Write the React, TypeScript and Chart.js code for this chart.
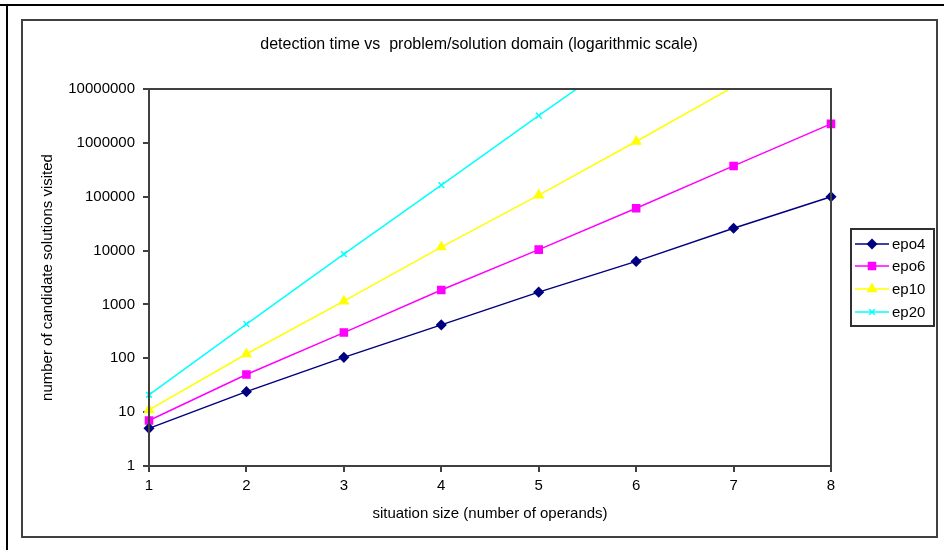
import React, { useEffect, useRef } from "react";
import { Chart, registerables } from "chart.js";
import { drawPoint } from "chart.js/helpers";

Chart.register(...registerables);

const categories = ["1", "2", "3", "4", "5", "6", "7", "8"];
const epo4 = [5, 24, 104, 417, 1690, 6300, 26000, 100000];
const epo6 = [7, 50, 300, 1850, 10400, 61000, 373000, 2250000];
const ep10 = [11, 120, 1150, 11600, 107000, 1060000, 11000000, null];
const ep20 = [21, 430, 8600, 164000, 3200000, 60000000, null, null];
const yTicks = [1, 10, 100, 1000, 10000, 100000, 1000000, 10000000];
const titleText = "detection time vs  problem/solution domain (logarithmic scale)";
const xTitle = "situation size (number of operands)";
const yTitle = "number of candidate solutions visited";

const FONT = "'Liberation Sans', Arial, sans-serif";
const AXIS = "#404040";

const series = [
  { label: "epo4", data: epo4, color: "#000080", style: "rectRot", radius: 4.5 },
  { label: "epo6", data: epo6, color: "#FF00FF", style: "rect", radius: 5 },
  { label: "ep10", data: ep10, color: "#FFFF00", style: "triangle", radius: 5 },
  { label: "ep20", data: ep20, color: "#00FFFF", style: "crossRot", radius: 4 },
];

const decorPlugin = {
  id: "decor",
  afterDraw(chart: any) {
    const ctx = chart.ctx;
    const a = chart.chartArea;
    ctx.save();
    // plot area frame
    ctx.strokeStyle = AXIS;
    ctx.lineWidth = 2;
    ctx.strokeRect(a.left, a.top, a.right - a.left, a.bottom - a.top);
    // title
    ctx.fillStyle = "#000";
    ctx.font = `16px ${FONT}`;
    ctx.textAlign = "center";
    ctx.textBaseline = "alphabetic";
    ctx.fillText(titleText, 479, 49);
    // legend
    const bx = 851, by = 229, bw = 83, bh = 97;
    ctx.strokeStyle = "#303030";
    ctx.lineWidth = 2;
    ctx.strokeRect(bx, by, bw, bh);
    const rows = [244, 266, 289, 312];
    ctx.font = `15px ${FONT}`;
    ctx.textAlign = "left";
    ctx.textBaseline = "middle";
    series.forEach((s, i) => {
      const y = rows[i];
      ctx.strokeStyle = s.color;
      ctx.lineWidth = 1.5;
      ctx.beginPath();
      ctx.moveTo(855, y);
      ctx.lineTo(889, y);
      ctx.stroke();
      ctx.fillStyle = s.color;
      drawPoint(ctx, { pointStyle: s.style, radius: s.radius, rotation: 0, borderWidth: 1.5 }, 872, y);
      ctx.fillStyle = "#000";
      ctx.fillText(s.label, 892, y + 1);
    });
    ctx.restore();
  },
};

export default function App() {
  const ref = useRef<HTMLCanvasElement | null>(null);
  useEffect(() => {
    if (!ref.current) return;
    const chart = new Chart(ref.current, {
      type: "line",
      data: {
        labels: categories,
        datasets: series.map((s) => ({
          label: s.label,
          data: s.data,
          borderColor: s.color,
          backgroundColor: s.color,
          borderWidth: 1.5,
          pointStyle: s.style,
          pointRadius: s.radius,
          pointBorderWidth: 1.5,
          pointBorderColor: s.color,
          pointBackgroundColor: s.color,
          tension: 0,
          spanGaps: false,
        })),
      },
      options: {
        animation: false,
        responsive: false,
        events: [],
        layout: { padding: { left: 35, top: 89, right: 113, bottom: 23 } },
        plugins: {
          legend: { display: false },
          title: { display: false },
          tooltip: { enabled: false },
        },
        scales: {
          x: {
            type: "category",
            offset: false,
            grid: { drawOnChartArea: false, drawTicks: true, tickLength: 6, color: AXIS, lineWidth: 2 },
            border: { display: true, color: AXIS, width: 2 },
            ticks: { color: "#000", font: { family: FONT, size: 15 }, padding: 5, maxRotation: 0, autoSkip: false },
            title: { display: true, text: xTitle, color: "#000", font: { family: FONT, size: 15 }, padding: { top: 4, bottom: 4 } },
            afterFit: (scale: any) => { scale.height = 61; },
          },
          y: {
            type: "logarithmic",
            min: 1,
            max: 10000000,
            grid: { drawOnChartArea: false, drawTicks: true, tickLength: 6, color: AXIS, lineWidth: 2 },
            border: { display: true, color: AXIS, width: 2 },
            ticks: {
              color: "#000",
              font: { family: FONT, size: 15 },
              padding: 8,
              callback: (v: any) => String(v),
            },
            afterBuildTicks: (scale: any) => {
              scale.ticks = yTicks.map((v) => ({ value: v }));
            },
            title: { display: true, text: yTitle, color: "#000", font: { family: FONT, size: 15 }, padding: { top: 4, bottom: 4 } },
            afterFit: (scale: any) => { scale.width = 114; },
          },
        },
      },
      plugins: [decorPlugin],
    });
    return () => chart.destroy();
  }, []);

  return (
    <div style={{ position: "fixed", left: 0, top: 0, width: 944, height: 550, background: "#fff", overflow: "hidden" }}>
      <div style={{ position: "absolute", left: 0, top: 4, width: 944, height: 2, background: "#000" }} />
      <div style={{ position: "absolute", left: 6, top: 4, width: 2, height: 546, background: "#000" }} />
      <div style={{ position: "absolute", left: 21, top: 19, width: 913, height: 515, border: "2px solid #404040" }} />
      <canvas ref={ref} width={944} height={550} style={{ position: "absolute", left: 0, top: 0, width: 944, height: 550 }} />
    </div>
  );
}
